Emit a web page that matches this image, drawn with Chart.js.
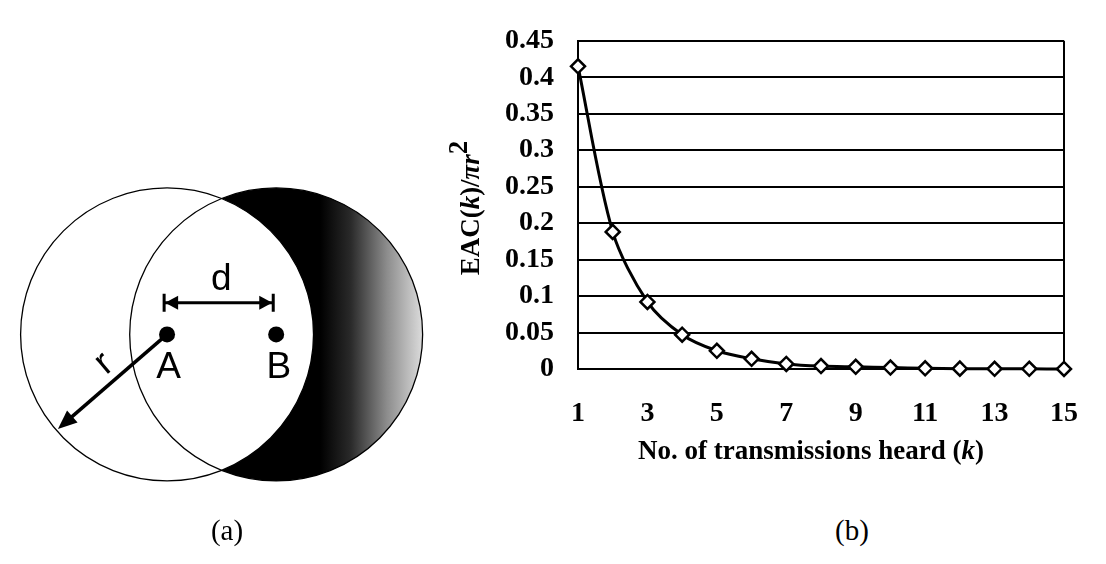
<!DOCTYPE html>
<html>
<head>
<meta charset="utf-8">
<script src="https://cdn.jsdelivr.net/npm/chart.js@4/dist/chart.umd.min.js"></script>
<style>
body { margin: 0; background: #fff; width: 1106px; height: 564px; position: relative; overflow: hidden; }
#diagBox { position: absolute; left: 0; top: 100px; width: 440px; height: 440px; }
#plotBox { position: absolute; left: 380px; top: 0; width: 726px; height: 480px; }
.cap { position: absolute; font-family: "Liberation Serif", serif; font-size: 29px; transform: translateX(-50%); line-height: 1; }
</style>
</head>
<body>
<div id="diagBox"><canvas id="diagram"></canvas></div>
<div id="plotBox"><canvas id="myChart"></canvas></div>
<div class="cap" style="left:227px; top:516px">(a)</div>
<div class="cap" style="left:852px; top:516px">(b)</div>
<script>
// (b) data
var kValues = ['1', '2', '3', '4', '5', '6', '7', '8', '9', '10', '11', '12', '13', '14', '15'];
var eacValues = [0.415, 0.188, 0.092, 0.047, 0.025, 0.014, 0.007, 0.004, 0.003, 0.002, 0.001, 0.0005, 0.0003, 0.0002, 0.0001];
var xTickShown = ['1', '3', '5', '7', '9', '11', '13', '15'];
var yTickLabels = ['0', '0.05', '0.1', '0.15', '0.2', '0.25', '0.3', '0.35', '0.4', '0.45'];

// (a) diagram, in units of r
var circleX = [0, 0.745];
var circleY = [0, 0];
var circleR = [1, 1];
var nodeNames = ['A', 'B'];
var dLineX = [-0.02, 0.725];
var dLineY = [0.217, 0.217];
var rLineX = [0, -0.745];
var rLineY = [0, -0.645];

var serif = '"Liberation Serif", "Times New Roman", serif';
var sans = '"Liberation Sans", Arial, sans-serif';

function drawHead(ctx, tx, ty, ang, len, half) {
    ctx.beginPath();
    ctx.moveTo(tx, ty);
    ctx.lineTo(tx - len * Math.cos(ang) + half * Math.sin(ang), ty - len * Math.sin(ang) - half * Math.cos(ang));
    ctx.lineTo(tx - len * Math.cos(ang) - half * Math.sin(ang), ty - len * Math.sin(ang) + half * Math.cos(ang));
    ctx.closePath();
    ctx.fill();
}

var diagramPlugin = {
    id: 'diagram',
    beforeDatasetsDraw: function (chart) {
        var ctx = chart.ctx, xs = chart.scales.x, ys = chart.scales.y;
        var unit = xs.getPixelForValue(1) - xs.getPixelForValue(0);
        var ax = xs.getPixelForValue(circleX[0]), ay = ys.getPixelForValue(circleY[0]);
        var bx = xs.getPixelForValue(circleX[1]), by = ys.getPixelForValue(circleY[1]);
        ctx.save();
        // crescent: right circle shaded, left circle painted white over it
        var g = ctx.createLinearGradient(bx + 0.3 * unit, 0, bx + circleR[1] * unit, 0);
        g.addColorStop(0, '#000');
        g.addColorStop(0.3, '#2a2a2a');
        g.addColorStop(0.65, '#8c8c8c');
        g.addColorStop(1, '#dcdcdc');
        ctx.beginPath();
        ctx.arc(bx, by, circleR[1] * unit, 0, 2 * Math.PI);
        ctx.fillStyle = g;
        ctx.fill();
        ctx.beginPath();
        ctx.arc(ax, ay, circleR[0] * unit, 0, 2 * Math.PI);
        ctx.fillStyle = '#fff';
        ctx.fill();
        ctx.strokeStyle = '#000';
        ctx.lineWidth = 1.3;
        ctx.beginPath();
        ctx.arc(ax, ay, circleR[0] * unit, 0, 2 * Math.PI);
        ctx.stroke();
        ctx.beginPath();
        ctx.arc(bx, by, circleR[1] * unit, 0, 2 * Math.PI);
        ctx.stroke();
        ctx.restore();
    },
    afterDatasetsDraw: function (chart) {
        var ctx = chart.ctx, xs = chart.scales.x, ys = chart.scales.y;
        ctx.save();
        ctx.fillStyle = '#000';
        ctx.strokeStyle = '#000';
        // d arrow: end bars + heads
        var x0 = xs.getPixelForValue(dLineX[0]), x1 = xs.getPixelForValue(dLineX[1]);
        var yd = ys.getPixelForValue(dLineY[0]);
        ctx.lineWidth = 3;
        ctx.beginPath();
        ctx.moveTo(x0, yd - 9); ctx.lineTo(x0, yd + 9);
        ctx.moveTo(x1, yd - 9); ctx.lineTo(x1, yd + 9);
        ctx.stroke();
        drawHead(ctx, x0 + 1, yd, Math.PI, 13, 7);
        drawHead(ctx, x1 - 1, yd, 0, 13, 7);
        // r arrow head
        var rx0 = xs.getPixelForValue(rLineX[0]), ry0 = ys.getPixelForValue(rLineY[0]);
        var rx1 = xs.getPixelForValue(rLineX[1]), ry1 = ys.getPixelForValue(rLineY[1]);
        drawHead(ctx, rx1, ry1, Math.atan2(ry1 - ry0, rx1 - rx0), 19, 8);
        // labels
        ctx.font = '37px ' + sans;
        ctx.textAlign = 'center';
        ctx.textBaseline = 'middle';
        ctx.fillText(nodeNames[0], xs.getPixelForValue(0.01), ys.getPixelForValue(-0.23));
        ctx.fillText(nodeNames[1], xs.getPixelForValue(0.763), ys.getPixelForValue(-0.23));
        ctx.fillText('d', xs.getPixelForValue(0.37), ys.getPixelForValue(0.37));
        ctx.translate(xs.getPixelForValue(-0.43), ys.getPixelForValue(-0.2));
        ctx.rotate(-40 * Math.PI / 180);
        ctx.fillText('r', 0, 0);
        ctx.restore();
    }
};

new Chart(document.getElementById('diagram'), {
    type: 'scatter',
    data: {
        datasets: [{
                data: circleX.map(function (x, i) { return {x: x, y: circleY[i]}; }),
                pointRadius: 8,
                pointBackgroundColor: '#000',
                pointBorderWidth: 0
            }, {
                data: dLineX.map(function (x, i) { return {x: x, y: dLineY[i]}; }),
                showLine: true,
                borderColor: '#000',
                borderWidth: 3,
                pointRadius: 0
            }, {
                data: [{x: rLineX[0], y: rLineY[0]}, {x: rLineX[0] + (rLineX[1] - rLineX[0]) * 0.9, y: rLineY[0] + (rLineY[1] - rLineY[0]) * 0.9}],
                showLine: true,
                borderColor: '#000',
                borderWidth: 3.5,
                pointRadius: 0
            }
        ]
    },
    options: {
        animation: false,
        responsive: true,
        maintainAspectRatio: false,
        events: [],
        layout: {padding: 0},
        plugins: {legend: {display: false}, tooltip: {enabled: false}},
        scales: {
            x: {type: 'linear', min: -1.086, max: 1.809, display: false},
            y: {type: 'linear', min: -1.349, max: 1.546, display: false}
        }
    },
    plugins: [diagramPlugin]
});

function drawRich(ctx, parts, x, y) {
    var total = 0;
    parts.forEach(function (p) {
        ctx.font = p.f;
        total += ctx.measureText(p.t).width;
    });
    var cx = x - total / 2;
    parts.forEach(function (p) {
        ctx.font = p.f;
        ctx.fillText(p.t, cx, y + (p.dy || 0));
        cx += ctx.measureText(p.t).width;
    });
}

var titlePlugin = {
    id: 'titles',
    afterDraw: function (chart) {
        var ctx = chart.ctx, a = chart.chartArea;
        var b = 'bold 27px ' + serif, bi = 'italic bold 27px ' + serif;
        ctx.save();
        ctx.fillStyle = '#000';
        ctx.textAlign = 'left';
        ctx.textBaseline = 'middle';
        drawRich(ctx, [
            {t: 'No. of transmissions heard (', f: b},
            {t: 'k', f: bi},
            {t: ')', f: b}
        ], (a.left + a.right) / 2 - 10, a.bottom + 83);
        ctx.translate(a.left - 106, 208);
        ctx.rotate(-Math.PI / 2);
        drawRich(ctx, [
            {t: 'EAC(', f: b},
            {t: 'k', f: bi},
            {t: ')/', f: b},
            {t: 'πr', f: bi},
            {t: '2', f: b, dy: -12}
        ], 0, 0);
        ctx.restore();
    }
};

var tickFont = {family: serif, size: 28, weight: 'bold'};

new Chart(document.getElementById('myChart'), {
    type: 'line',
    data: {
        labels: kValues,
        datasets: [{
                data: eacValues,
                borderColor: '#000',
                borderWidth: 3,
                tension: 0.3,
                pointStyle: 'rectRot',
                pointRadius: 7,
                pointBorderWidth: 2.5,
                pointBackgroundColor: '#fff',
                pointBorderColor: '#000',
                clip: false
            }]
    },
    options: {
        animation: false,
        responsive: true,
        maintainAspectRatio: false,
        events: [],
        layout: {padding: {left: 118, top: 22, right: 17, bottom: 51}},
        plugins: {legend: {display: false}, tooltip: {enabled: false}},
        scales: {
            x: {
                grid: {
                    drawTicks: false,
                    lineWidth: 2,
                    color: function (c) {
                        return c.index === kValues.length - 1 ? '#000' : 'rgba(0,0,0,0)';
                    }
                },
                border: {display: true, color: '#000', width: 2},
                ticks: {
                    autoSkip: false,
                    maxRotation: 0,
                    padding: 28,
                    color: '#000',
                    font: tickFont,
                    callback: function (v, i) {
                        return xTickShown.indexOf(kValues[i]) >= 0 ? kValues[i] : '';
                    }
                },
                afterFit: function (s) {
                    s.height = 60;
                }
            },
            y: {
                min: 0,
                max: 0.45,
                grid: {color: '#000', lineWidth: 2, drawTicks: false},
                border: {display: true, color: '#000', width: 2},
                ticks: {
                    stepSize: 0.05,
                    autoSkip: false,
                    padding: 24,
                    color: '#000',
                    font: tickFont,
                    callback: function (v) {
                        return yTickLabels[Math.round(v * 20)];
                    }
                },
                afterFit: function (s) {
                    s.width = 80;
                }
            }
        }
    },
    plugins: [titlePlugin]
});
</script>
</body>
</html>
